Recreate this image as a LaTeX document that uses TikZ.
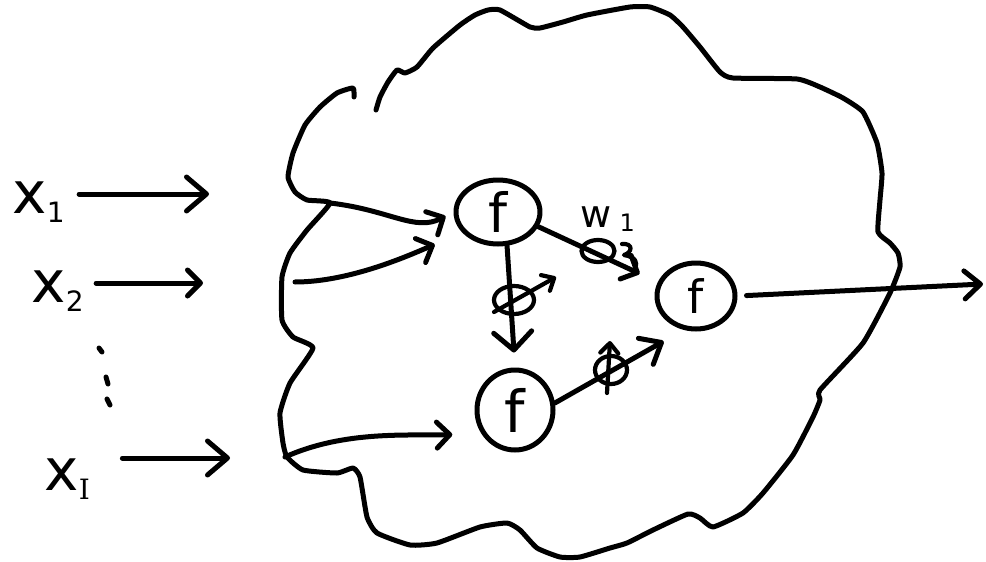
\documentclass[tikz,border=0pt]{standalone}
\usepackage{fontspec}
\setmainfont{DejaVu Sans}
\newfontfamily\serifI{DejaVu Serif}
\usetikzlibrary{arrows.meta,shapes.geometric}
\begin{document}
\begin{tikzpicture}[x=1pt,y=-1pt,
  line width=5pt, line cap=round, line join=round,
  arr/.style={-{Straight Barb[length=13pt,width=26pt,round]}},
  bigarr/.style={-{Straight Barb[length=20pt,width=34pt,round]}},
  smallarr/.style={-{Straight Barb[length=10pt,width=18pt,round]}},
  fnode/.style={ellipse, draw, inner sep=0pt},
  knob/.style={ellipse, draw, inner sep=0pt, line width=4.2pt},
  lab/.style={inner sep=0pt, anchor=base west, font=\fontsize{58}{58}\selectfont},
]
\newcommand{\subx}[1]{\raisebox{-9pt}{\fontsize{28}{28}\selectfont #1}}
\useasboundingbox (0,0) rectangle (986,562);

% cloud outline
\draw plot[smooth, tension=0.3] coordinates {(376,110) (380,97) (388,82) (397,70) (405,73) (417,67) (433,48) (460,25) (475,15) (488,10) (500,10) (530,27) (540,28) (563,22) (587,15) (630,7) (650,7) (670,15) (683,27) (700,47) (720,72) (733,78) (797,79) (820,87) (843,98) (863,112) (877,143) (882,173) (880,200) (878,232) (890,243) (898,253) (900,267) (890,293) (863,343) (820,390) (820,400) (813,417) (793,455) (763,493) (743,513) (713,527) (700,518) (688,514) (653,530) (627,543) (610,548) (580,557) (560,557) (537,548) (520,530) (507,523) (480,527) (437,543) (410,545) (377,533) (367,517) (360,477) (353,468) (337,473) (303,470) (287,457) (283,443) (280,413) (290,383) (313,348) (293,337) (282,320) (282,277) (290,253) (307,230) (330,203) (307,200) (295,192) (288,177) (293,153) (305,125) (320,107) (337,93) (353,88) (354,97)};

% input labels
\node[lab] (x1) at (10,213) {x\subx{1}};
\node[lab] (x2) at (29,302) {x\subx{2}};
\node[lab] (xI) at (42,490) {x\subx{\serifI I}};
\coordinate (a1) at (209,194);
\coordinate (a2) at (203,283);
\coordinate (a3) at (230,458);
\draw[bigarr, shorten <=12pt] (x1.east |- a1) -- (a1);
\draw[arr, shorten <=10pt] (x2.east |- a2) -- (a2);
\draw[bigarr, shorten <=30pt] (xI.east |- a3) -- (a3);
% vertical dots
\draw (99,348) -- (102,352);
\draw (106,377) -- (108,384);
\draw (107,399) -- (110,405);

% neurons
\node[fnode, minimum width=84pt, minimum height=64pt, font=\fontsize{54}{54}\selectfont] (f1) at (498,212) {f};
\node[fnode, minimum width=78pt, minimum height=66pt, font=\fontsize{46}{46}\selectfont] (f2) at (696,296) {f};
\node[fnode, minimum width=76pt, minimum height=80pt, font=\fontsize{58}{58}\selectfont] (f3) at (515,410) {f};

% inputs inside the cloud
\coordinate (in1) at (330,203);
\coordinate (in2) at (295,282);
\coordinate (in3) at (285,457);
\draw[arr, shorten >=9pt] (in1) .. controls (390,210) and (415,232) .. (f1.west);
\draw[arr, shorten >=30pt] (in2) .. controls (350,282) and (410,255) .. (f1.210);
\draw[arr, shorten >=29pt] (in3) .. controls (345,430) and (410,436) .. (f3.215);

% weight knobs
\node[knob, minimum width=33pt, minimum height=22pt] (p1) at (598,251) {};
\node[knob, minimum width=40pt, minimum height=28pt] (p2) at (514,300) {};
\node[knob, minimum width=32pt, minimum height=28pt] (p3) at (611,370) {};

% connections between neurons
\draw[arr, shorten >=20pt] (f1.-20) -- (f2.160);
\draw[-{Straight Barb[length=18pt,width=38pt,round]}, shorten >=15pt] (f1.-75) -- (f3.north);
\draw[-{Straight Barb[length=18pt,width=30pt,round]}, shorten >=23pt] (f3.10) -- (f2.250);

% output
\coordinate (out) at (983,284);
\draw[-{Straight Barb[length=16pt,width=28pt,round]}, shorten <=9pt] (f2.east) -- (out);

% adjusting arrows through the knobs
\draw[smallarr, line width=4.2pt] ([shift={(-20,12)}]p2.center) -- ([shift={(42,-23)}]p2.center);
\draw[smallarr, line width=4.2pt] ([shift={(-4,23)}]p3.center) -- ([shift={(-1,-29)}]p3.center);
\draw[line width=4.2pt] ([shift={(24,-7)}]p1.center) .. controls ([shift={(36,-8)}]p1.center) and ([shift={(34,2)}]p1.center) .. ([shift={(26,4)}]p1.center) .. controls ([shift={(38,6)}]p1.center) and ([shift={(40,12)}]p1.center) .. ([shift={(37,17)}]p1.center);

% weight label
\node[inner sep=0pt, anchor=base west, font=\fontsize{38}{38}\selectfont] (wl) at (578,227) {w\hspace{8pt}\raisebox{-4pt}{\fontsize{24}{24}\selectfont 1}};
\end{tikzpicture}
\end{document}
